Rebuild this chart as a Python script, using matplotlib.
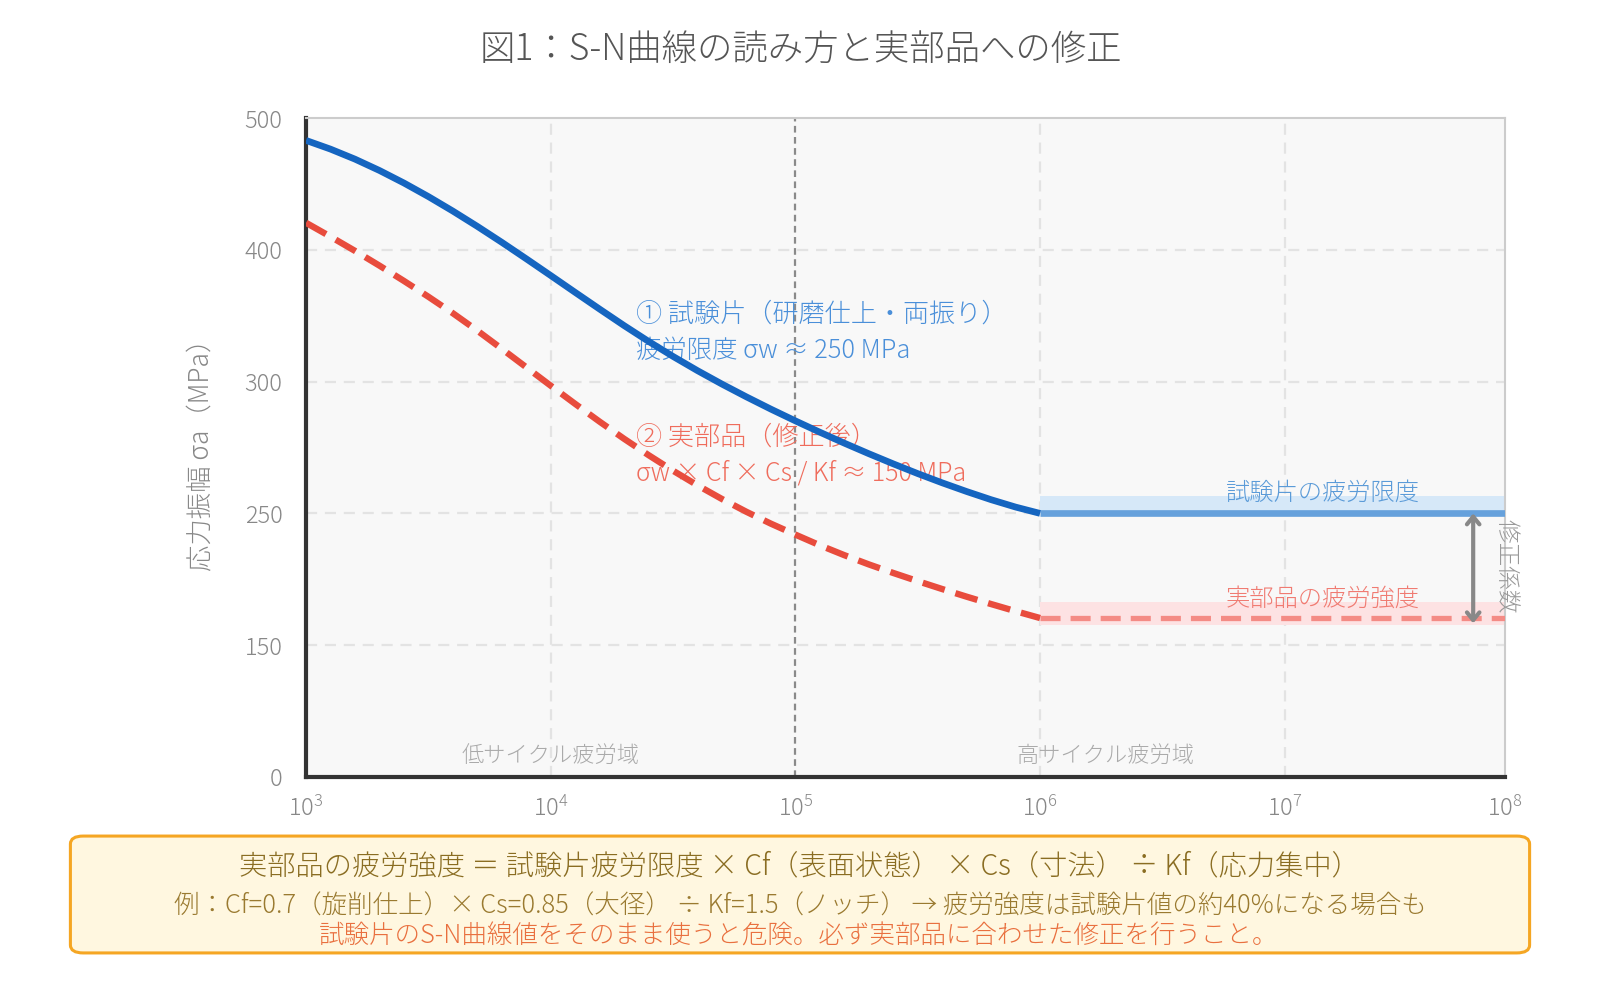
import numpy as np
import matplotlib
matplotlib.use("Agg")
import matplotlib.pyplot as plt
from matplotlib.patches import FancyBboxPatch

plt.rcParams['font.family'] = ['Noto Sans CJK JP', 'DejaVu Sans']
plt.rcParams['mathtext.fontset'] = 'custom'
plt.rcParams['mathtext.rm'] = 'Noto Sans CJK JP:light'
plt.rcParams['mathtext.it'] = 'Noto Sans CJK JP:light'

# ---------------- data ----------------
log_cycles = [3.0, 3.1, 3.2, 3.3, 3.4, 3.5, 3.6, 3.7, 3.8, 3.9, 4.0,
              4.1, 4.2, 4.3, 4.4, 4.5, 4.6, 4.7, 4.8, 4.9, 5.0,
              5.1, 5.2, 5.3, 5.4, 5.5, 5.6, 5.7, 5.8, 5.9, 6.0]
specimen_mpa = [483.0, 476.4, 468.8, 460.2, 450.7, 440.4, 429.4, 417.8, 405.7, 393.2, 380.5,
                367.7, 355.0, 342.5, 330.5, 319.1, 308.3, 299.05, 294.2, 289.55, 285.1,
                280.8, 276.65, 272.65, 268.8, 265.1, 261.6, 258.3, 255.2, 252.4, 250.0]
component_mpa = [420.5, 410.0, 399.2, 388.0, 376.4, 364.4, 351.9, 338.7, 324.9, 310.9, 298.45,
                 291.55, 284.8, 278.3, 272.1, 266.2, 260.65, 255.45, 250.6, 242.2, 233.9,
                 225.8, 218.3, 211.3, 204.8, 198.6, 192.6, 186.8, 181.2, 175.8, 170.6]
limit_specimen = 250
limit_component = 170.6
band_specimen = [250, 256.5]
band_component = [165, 183]
x_end_log = 7.9
y_ticks = [0, 150, 250, 300, 400, 500]
x_tick_logs = [3, 4, 5, 6, 7, 7.9]
x_tick_labels = [r'$10^{3}$', r'$10^{4}$', r'$10^{5}$', r'$10^{6}$', r'$10^{7}$', r'$10^{8}$']
arrow_log = 7.77

# ---------------- figure ----------------
W, H = 1600, 989
fig = plt.figure(figsize=(W / 100, H / 100), dpi=100)
def fx(px): return px / W
def fy(py): return 1 - py / H

ax = fig.add_axes([fx(306), fy(777), fx(1505) - fx(306), fy(118) - fy(777)])
ax.set_facecolor('#f8f8f8')

pos = np.arange(len(y_ticks), dtype=float)
fwd = lambda v: np.interp(v, y_ticks, pos)
inv = lambda p: np.interp(p, pos, y_ticks)
ax.set_xscale('log')
ax.set_yscale('function', functions=(fwd, inv))
ax.set_xlim(10 ** 3, 10 ** x_end_log)
ax.set_ylim(0, 500)

# grid
for v in y_ticks[1:-1]:
    ax.axhline(v, color='#e3e3e3', lw=1.6, dashes=(5, 3.5), zorder=0.5)
for lx in [4, 6, 7]:
    ax.axvline(10 ** lx, color='#e3e3e3', lw=1.6, dashes=(5, 3.5), zorder=0.5)
ax.axvline(10 ** 5, color='#8a8a8a', lw=1.6, dashes=(3, 2), zorder=0.6)

# bands
xs_plateau = [10 ** 6, 10 ** x_end_log]
ax.fill_between(xs_plateau, band_specimen[0], band_specimen[1], color='#d6e8f8', lw=0, zorder=1)
ax.fill_between(xs_plateau, band_component[0], band_component[1], color='#fde2e3', lw=0, zorder=1)

cyc = 10 ** np.array(log_cycles)
ax.plot(cyc, specimen_mpa, color='#1565c0', lw=4.8, solid_capstyle='butt', solid_joinstyle='round', zorder=4)
ax.plot(cyc, component_mpa, color='#e84c3d', lw=4.6, dashes=(3.6, 1.75), zorder=3)

ax.plot(xs_plateau, [limit_specimen] * 2, color='#66a1dc', lw=4.8, solid_capstyle='butt', zorder=3)
ax.plot(xs_plateau, [limit_component] * 2, color='#f48b85', lw=3.8, dashes=(3.8, 1.9), zorder=3)

ax.annotate('', xy=(10 ** arrow_log, limit_specimen), xytext=(10 ** arrow_log, limit_component - 4),
            arrowprops=dict(arrowstyle='<->,head_length=0.55,head_width=0.45', color='#888888', lw=3,
                            shrinkA=0, shrinkB=0), zorder=5)

# spines
for s in ['top', 'right']:
    ax.spines[s].set_color('#cccccc')
    ax.spines[s].set_linewidth(1.5)
for s in ['left', 'bottom']:
    ax.spines[s].set_color('#333333')
    ax.spines[s].set_linewidth(3)

ax.set_yticks(y_ticks)
ax.set_yticklabels([str(v) for v in y_ticks])
ax.set_xticks([10 ** v for v in x_tick_logs])
ax.set_xticklabels(x_tick_labels)
ax.minorticks_off()
ax.tick_params(axis='both', length=0, colors='#888888', labelsize=17)
ax.tick_params(axis='y', pad=17)
ax.tick_params(axis='x', pad=14)
for t in ax.get_yticklabels() + ax.get_xticklabels():
    t.set_fontweight('light')

# texts
light = dict(fontweight='light')
fig.text(fx(801), fy(50), '図1：S-N曲線の読み方と実部品への修正', ha='center', va='center',
         fontsize=25.5, color='#555555', **light)
fig.text(fx(201), fy(448), '応力振幅 σa（MPa）', ha='center', va='center', rotation=90,
         fontsize=19, color='#888888', **light)

tf = fig.transFigure
ax.text(fx(636), fy(314), '① 試験片（研磨仕上・両振り）', ha='left', va='center', fontsize=18.8,
        color='#4a8fd9', transform=tf, zorder=2, **light)
ax.text(fx(636), fy(351), '疲労限度 σw ≈ 250 MPa', ha='left', va='center', fontsize=18.3,
        color='#4a8fd9', transform=tf, zorder=2, **light)
ax.text(fx(636), fy(437), '② 実部品（修正後）', ha='left', va='center', fontsize=18.8,
        color='#ef6c5c', transform=tf, zorder=2, **light)
ax.text(fx(636), fy(473), 'σw × Cf × Cs / Kf ≈ 150 MPa', ha='left', va='center', fontsize=18.0,
        color='#ef6c5c', transform=tf, zorder=2, **light)
ax.text(fx(1420), fy(493), '試験片の疲労限度', ha='right', va='center', fontsize=17.5,
        color='#5b9bd8', transform=tf, zorder=2, **light)
ax.text(fx(1420), fy(599), '実部品の疲労強度', ha='right', va='center', fontsize=17.5,
        color='#f07b72', transform=tf, zorder=2, **light)
ax.text(fx(1506), fy(566), '修正係数', ha='center', va='center', rotation=-90, fontsize=17,
        color='#999999', transform=tf, zorder=6, clip_on=False, **light)
ax.text(fx(551), fy(756), '低サイクル疲労域', ha='center', va='center', fontsize=16,
        color='#aaaaaa', transform=tf, zorder=2, **light)
ax.text(fx(1105), fy(756), '高サイクル疲労域', ha='center', va='center', fontsize=16,
        color='#aaaaaa', transform=tf, zorder=2, **light)

# bottom box
box = FancyBboxPatch((fx(80), fy(947)), fx(1520) - fx(80), fy(842) - fy(947),
                     boxstyle='round,pad=0.006,rounding_size=0.008',
                     transform=fig.transFigure, facecolor='#fff7e0', edgecolor='#f5a623', lw=2.2)
fig.patches.append(box)
fig.text(fx(799), fy(866), '実部品の疲労強度 ＝ 試験片疲労限度 × Cf（表面状態） × Cs（寸法） ÷ Kf（応力集中）',
         ha='center', va='center', fontsize=20.3, color='#8a6d22', **light)
fig.text(fx(800), fy(906), '例：Cf=0.7（旋削仕上）× Cs=0.85（大径） ÷ Kf=1.5（ノッチ） → 疲労強度は試験片値の約40%になる場合も',
         ha='center', va='center', fontsize=18.4, color='#9a7a30', **light)
fig.text(fx(799), fy(936), '試験片のS-N曲線値をそのまま使うと危険。必ず実部品に合わせた修正を行うこと。',
         ha='center', va='center', fontsize=18.4, color='#e9703f', **light)

fig.savefig('out.png', dpi=100, facecolor='white')
